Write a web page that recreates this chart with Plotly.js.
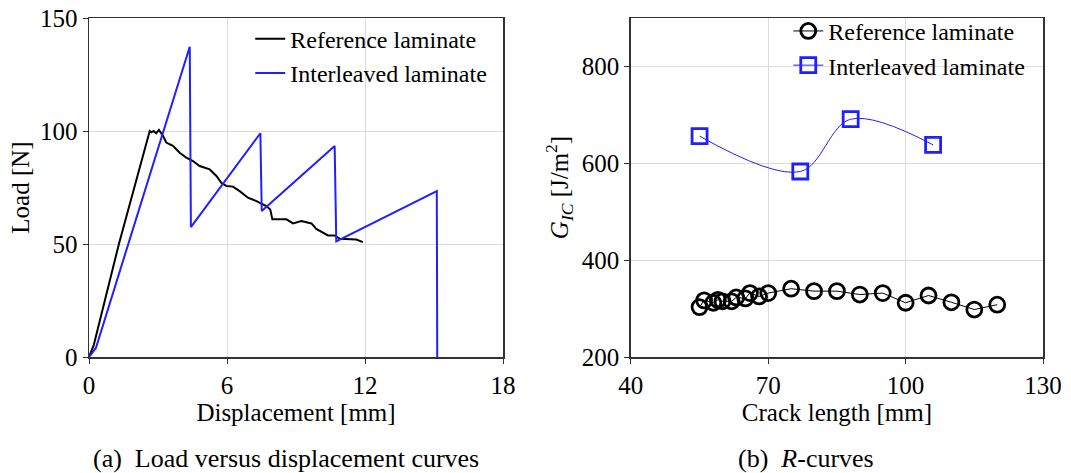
<!DOCTYPE html>
<html>
<head>
<meta charset="utf-8">
<script src="https://cdn.plot.ly/plotly-3.0.1.min.js"></script>
<style>
  html, body { margin: 0; padding: 0; background: #fff; }
  #chart { width: 1071px; height: 473px; }
</style>
</head>
<body>
<div id="chart"></div>
<script>
// (a) Load versus displacement
const dispReference = [0, 0.2, 1.3, 2.64, 2.71, 2.81, 2.92, 3.04, 3.22, 3.36, 3.65, 3.94, 4.23, 4.52, 4.81, 5.25, 5.54, 5.75, 5.97, 6.26, 6.55, 6.91, 7.28, 7.71, 7.88, 7.97, 8.58, 8.87, 9.23, 9.67, 9.88, 10.39, 10.68, 10.9, 11.62, 11.91];
const loadReference = [0, 5, 50, 100, 99.4, 100, 99, 100.5, 97.8, 94.9, 93.4, 90.4, 88.2, 86.7, 84.5, 83.0, 80.1, 77.1, 75.7, 75.4, 73.4, 70.5, 69.0, 66.8, 65.3, 60.9, 60.9, 59.1, 60.2, 59.1, 56.7, 53.8, 53.8, 52.3, 52.0, 50.8];
const dispInterleaved = [0, 0.3, 4.38, 4.43, 7.45, 7.51, 10.68, 10.75, 15.12, 15.14];
const loadInterleaved = [0, 4, 137.3, 57.5, 99.0, 64.6, 93.4, 51.1, 73.4, 0];

// (b) R-curves
const crackReference = [55, 56, 58, 59, 60, 62, 63, 65, 66, 68, 70, 75, 80, 85, 90, 95, 100, 105, 110, 115, 120];
const gicReference = [303, 317, 312, 318, 315, 315, 323, 321, 332, 325, 332, 341, 336, 336, 329, 332, 312, 327, 313, 298, 308];
const crackInterleaved = [55, 77, 88, 106];
const gicInterleaved = [656, 583, 691, 638];

const seriesNames = ['Reference laminate', 'Interleaved laminate'];
const captions = ['(a)\u00a0 Load versus displacement curves', '(b)\u00a0 <i>R</i>-curves'];

const BLUE = '#1f1fff';
const FONT = 'Liberation Serif, Times New Roman, serif';

const traces = [
  { x: dispReference, y: loadReference, xaxis: 'x', yaxis: 'y', type: 'scatter', mode: 'lines',
    name: seriesNames[0], line: { color: '#000', width: 2 }, legend: 'legend' },
  { x: dispInterleaved, y: loadInterleaved, xaxis: 'x', yaxis: 'y', type: 'scatter', mode: 'lines',
    name: seriesNames[1], line: { color: BLUE, width: 2 }, legend: 'legend' },
  { x: crackReference, y: gicReference, xaxis: 'x2', yaxis: 'y2', type: 'scatter', mode: 'lines+markers',
    name: seriesNames[0], line: { color: '#000', width: 1 },
    marker: { symbol: 'circle-open', size: 15, color: '#000', line: { width: 2.8, color: '#000' } }, legend: 'legend2' },
  { x: crackInterleaved, y: gicInterleaved, xaxis: 'x2', yaxis: 'y2', type: 'scatter', mode: 'lines+markers',
    name: seriesNames[1], line: { color: BLUE, width: 1, shape: 'spline', smoothing: 1 },
    marker: { symbol: 'square-open', size: 15, color: BLUE, line: { width: 2.8, color: BLUE } }, legend: 'legend2' }
];

const axisCommon = {
  showline: true, mirror: true, linecolor: '#333', linewidth: 1.5,
  ticks: 'outside', ticklen: 5, tickcolor: '#333',
  showgrid: true, gridcolor: '#dcdcdc', gridwidth: 1, zeroline: false,
  tickfont: { family: FONT, size: 25, color: '#000' }
};
const titleFont = { family: FONT, size: 25, color: '#000' };

const layout = {
  width: 1071, height: 473,
  margin: { l: 89, r: 28, t: 18, b: 116, autoexpand: false },
  paper_bgcolor: '#fff', plot_bgcolor: '#fff',
  font: { family: FONT, color: '#000' },
  showlegend: true,
  xaxis: Object.assign({}, axisCommon, { domain: [0, 0.434], range: [0, 18], tickvals: [0, 6, 12, 18],
    title: { text: 'Displacement [mm]', font: titleFont, standoff: 0 } }),
  yaxis: Object.assign({}, axisCommon, { domain: [0, 1], range: [0, 150], tickvals: [0, 50, 100, 150],
    title: { text: 'Load [N]', font: titleFont, standoff: 3 } }),
  xaxis2: Object.assign({}, axisCommon, { domain: [0.568, 1], range: [40, 130], tickvals: [40, 70, 100, 130], anchor: 'y2',
    title: { text: 'Crack length [mm]', font: titleFont, standoff: 0 } }),
  yaxis2: Object.assign({}, axisCommon, { domain: [0, 1], range: [200, 900], tickvals: [200, 400, 600, 800], anchor: 'x2',
    title: { text: '<i>G</i><sub><i>IC</i></sub> [J/m<sup>2</sup>]', font: titleFont, standoff: 6 } }),
  legend: { x: 0.169, y: 1.004, xanchor: 'left', yanchor: 'top', bgcolor: 'rgba(0,0,0,0)',
    font: { family: FONT, size: 24, color: '#000' }, itemwidth: 30, tracegroupgap: 0 },
  legend2: { x: 0.733, y: 1.027, xanchor: 'left', yanchor: 'top', bgcolor: 'rgba(0,0,0,0)',
    font: { family: FONT, size: 24, color: '#000' }, itemwidth: 30, tracegroupgap: 0 },
  annotations: [
    { text: captions[0], xref: 'paper', yref: 'paper', x: 0.206, y: -0.298, xanchor: 'center', yanchor: 'middle',
      showarrow: false, font: { family: FONT, size: 26, color: '#000' } },
    { text: captions[1], xref: 'paper', yref: 'paper', x: 0.752, y: -0.298, xanchor: 'center', yanchor: 'middle',
      showarrow: false, font: { family: FONT, size: 26, color: '#000' } }
  ]
};

Plotly.newPlot('chart', traces, layout, { displayModeBar: false, staticPlot: true });
</script>
</body>
</html>
